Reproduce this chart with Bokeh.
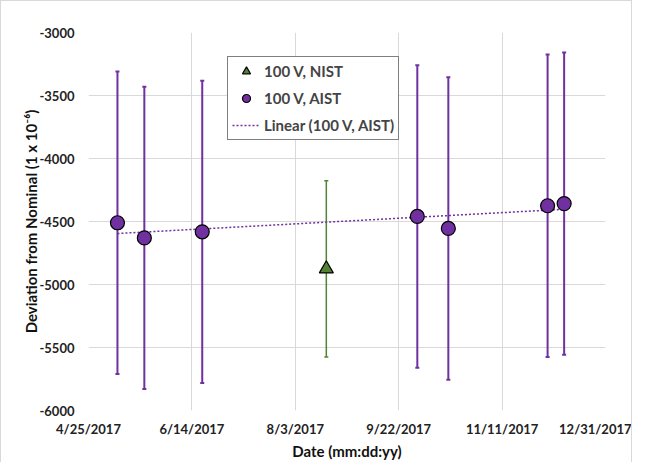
import numpy as np
import pandas as pd
from bokeh.plotting import figure
from bokeh.models import (ColumnDataSource, Whisker, TeeHead, FixedTicker, Legend,
                          LegendItem, Range1d)
from bokeh.embed import file_html
from bokeh.resources import INLINE

# ---- data ----
aist_dates = ["2017-05-09", "2017-05-22", "2017-06-19", "2017-10-01",
              "2017-10-16", "2017-12-03", "2017-12-11"]
aist_values = [-4510, -4630, -4582, -4460, -4555, -4375, -4358]
aist_unc = [1200, 1200, 1200, 1200, 1200, 1200, 1200]

nist_dates = ["2017-08-18"]
nist_values = [-4876]
nist_unc = [700]

x_tick_labels = ["4/25/2017", "6/14/2017", "8/3/2017", "9/22/2017",
                 "11/11/2017", "12/31/2017"]
y_ticks = [-6000, -5500, -5000, -4500, -4000, -3500, -3000]
y_tick_labels = ["-6000", "-5500", "-5000", "-4500", "-4000", "-3500", "-3000"]

origin = pd.Timestamp("2017-04-25")
def day(d, fmt=None):
    return (pd.to_datetime(d, format=fmt) - origin).days

ax = [day(d) for d in aist_dates]
nx = [day(d) for d in nist_dates]
tick_pos = [day(t, "%m/%d/%Y") for t in x_tick_labels]

aist = ColumnDataSource(dict(x=ax, y=aist_values,
                             lo=[v - u for v, u in zip(aist_values, aist_unc)],
                             hi=[v + u for v, u in zip(aist_values, aist_unc)]))
nist = ColumnDataSource(dict(x=nx, y=nist_values,
                             lo=[v - u for v, u in zip(nist_values, nist_unc)],
                             hi=[v + u for v, u in zip(nist_values, nist_unc)]))

PURPLE = "#7030A0"
GREEN = "#548235"
FONT = "Lato"

p = figure(frame_width=517, frame_height=378, output_backend="svg",
           toolbar_location=None,
           x_range=Range1d(tick_pos[0], tick_pos[-1]),
           y_range=Range1d(-6000, -3000),
           min_border_left=87, min_border_right=26, min_border_top=31,
           min_border_bottom=45)
p.outline_line_color = None
p.styles = {"border": "1px solid #d9d9d9"}

# error bars
for src, col, lw in ((aist, PURPLE, 2), (nist, GREEN, 1.5)):
    w = Whisker(source=src, base="x", lower="lo", upper="hi",
                line_color=col, line_width=lw,
                upper_head=TeeHead(size=4, line_color=col, line_width=lw),
                lower_head=TeeHead(size=4, line_color=col, line_width=lw))
    p.add_layout(w)

# linear trend of AIST points
coef = np.polyfit(ax, aist_values, 1)
tx = [min(ax), max(ax)]
ty = list(np.polyval(coef, tx))
trend = p.line(tx, ty, line_color=PURPLE, line_dash="2 2", line_width=1.5)

tri = p.scatter("x", "y", source=nist, marker="triangle", size=14,
                fill_color=GREEN, line_color="black", line_width=1.2)
circ = p.scatter("x", "y", source=aist, marker="circle", size=14,
                 fill_color=PURPLE, line_color="black", line_width=1.2)

# axes
p.xaxis.ticker = FixedTicker(ticks=tick_pos)
p.xaxis.major_label_overrides = {t: l for t, l in zip(tick_pos, x_tick_labels)}
p.yaxis.ticker = FixedTicker(ticks=y_ticks)
p.yaxis.major_label_overrides = {t: l for t, l in zip(y_ticks, y_tick_labels)}
for a in (p.xaxis[0], p.yaxis[0]):
    a.axis_line_color = None
    a.major_tick_line_color = None
    a.minor_tick_line_color = None
    a.major_tick_out = 0
    a.major_tick_in = 0
    a.minor_tick_out = 0
    a.major_label_text_font = FONT
    a.major_label_text_font_style = "bold"
    a.major_label_text_font_size = "13px"
    a.major_label_text_color = "#222222"
    a.axis_label_text_font = FONT
    a.axis_label_text_font_style = "bold"
    a.axis_label_text_font_size = "15px"
    a.axis_label_text_color = "#111111"
p.yaxis.major_label_standoff = 14
p.xaxis.major_label_standoff = 10
p.yaxis.axis_label = "Deviation from Nominal (1 x 10\u207b\u2076)"
p.xaxis.axis_label = "Date (mm:dd:yy)"
p.xaxis.axis_label_standoff = 2
p.yaxis.axis_label_standoff = -4

p.xgrid.grid_line_color = "#d9d9d9"
p.ygrid.grid_line_color = "#d9d9d9"

legend = Legend(items=[LegendItem(label="100 V, NIST", renderers=[tri]),
                       LegendItem(label="100 V, AIST", renderers=[circ]),
                       LegendItem(label="Linear (100 V, AIST)", renderers=[trend])],
                location=(139, 270), border_line_color="black", border_line_width=1,
                background_fill_alpha=1, label_text_font=FONT,
                label_text_font_style="bold", label_text_font_size="15px",
                glyph_width=28, glyph_height=20, label_height=20,
                spacing=7, padding=4, margin=0, label_standoff=4)
p.add_layout(legend)

open("out.html", "w").write(file_html(p, INLINE))
